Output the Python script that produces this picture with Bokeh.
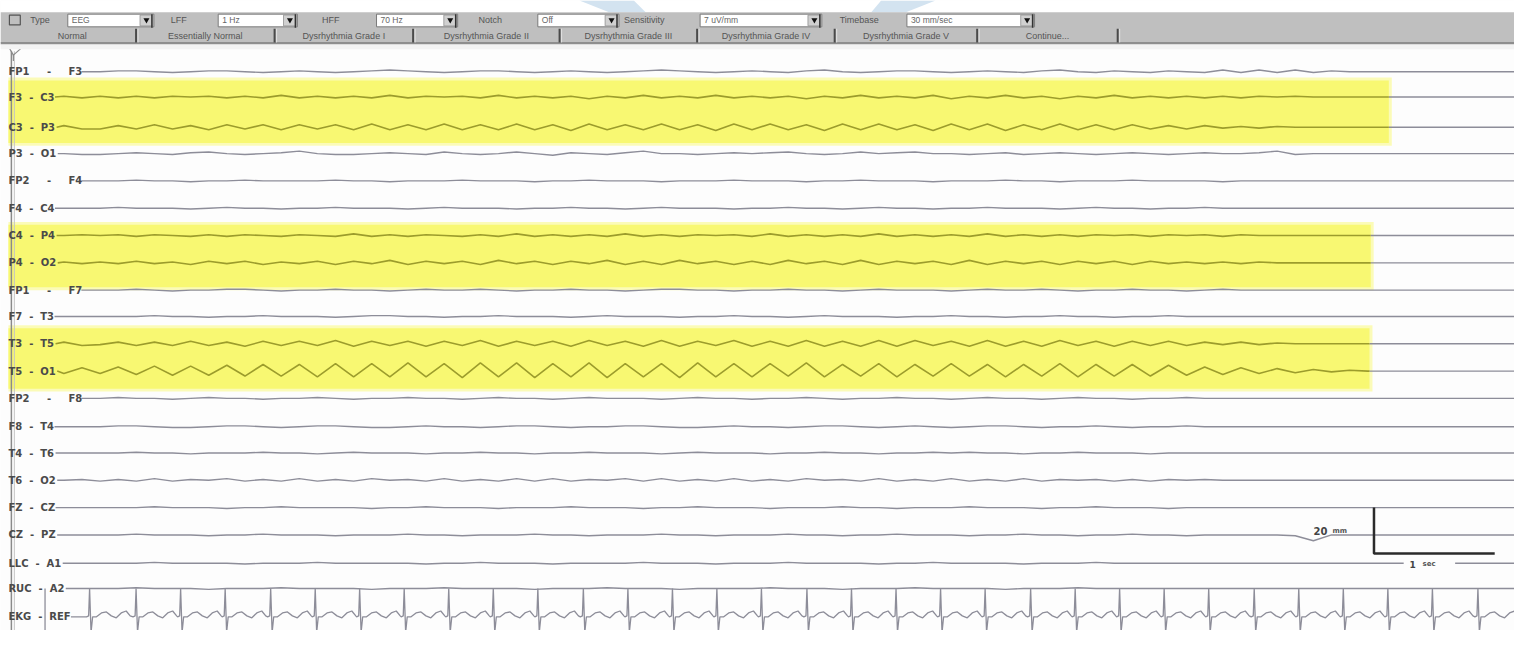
import numpy as np
from bokeh.plotting import figure
from bokeh.models import Range1d
from bokeh.embed import file_html
from bokeh.resources import INLINE
from bokeh.core.properties import value

# ---------------------------------------------------------------- data
channels = ["FP1 - F3", "F3 - C3", "C3 - P3", "P3 - O1", "FP2 - F4", "F4 - C4",
            "C4 - P4", "P4 - O2", "FP1 - F7", "F7 - T3", "T3 - T5", "T5 - O1",
            "FP2 - F8", "F8 - T4", "T4 - T6", "T6 - O2", "FZ - CZ", "CZ - PZ",
            "LLC - A1", "RUC - A2", "EKG - REF"]

# EEG samples (deflection, up = positive), one sample every dt seconds from t0
t0 = 0.375
dt = 0.15
eeg = {
    "FP1 - F3": [0, 0, 0,
                 0, 1, 1, 0, -1, 0, 1, 1, 0, -1,
                 0, 1, 0, -1, 0, 1, 2, 1, 0, -1,
                 0, 1, 1, 0, -1, 0, 1, 0, -1, 0,
                 1, 2, 1, 0, -1, 0, 1, 0, -1, 1,
                 2, 0, -1, 0, 1, 1, 0, -1, 0, 1,
                 0, -1, 1, 2, 0, -1, 1, 0, -1, 1,
                 0, -1, 2, -1, 2, -1, 2, -1, 1, 0,
                 0, 0, 0, 0, 0, 0, 0, 0, 0, 0],
    "F3 - C3": [0, 1, -1,
                1, -1, 1, -1, 1, 0, 1, -1, 1, -1,
                2, -1, 1, -1, 1, -1, 2, -1, 1, 0,
                1, -1, 2, -1, 1, -1, 1, -2, 1, -1,
                2, -1, 1, -1, 2, -1, 1, -1, 1, -2,
                1, -1, 2, -1, 1, -1, 2, -2, 1, -1,
                2, -1, 1, -2, 1, -1, 2, -1, 1, -1,
                1, -1, 1, -1, 1, 0, 1, 0, 0, 0,
                0, 0, 0, 0, 0, 0, 0, 0, 0, 0],
    "C3 - P3": [0, 2, -2,
                -2, 2, -2, 3, -2, 2, -3, 3, -2, 3,
                -3, 3, -2, 3, -3, 4, -3, 3, -3, 4,
                -3, 3, -3, 4, -3, 3, -4, 4, -3, 3,
                -3, 4, -3, 3, -4, 4, -3, 4, -3, 3,
                -4, 4, -3, 4, -3, 3, -4, 4, -3, 4,
                -4, 3, -3, 4, -3, 3, -3, 3, -2, 2,
                -2, 2, -1, 1, -1, 1, 0, 0, 0, 0,
                0, 0, 0, 0, 0, 0, 0, 0, 0, 0],
    "P3 - O1": [0, 0, -1,
                -1, 0, 1, 0, -1, 1, 2, 0, -1, 0,
                1, 3, 0, -1, -1, 0, 1, 0, -1, 2,
                0, -1, 0, 2, 0, -2, 1, 0, -1, 1,
                3, 0, 0, -1, 0, 1, 0, 1, 2, 0,
                -1, 0, 2, 0, 1, 2, 0, 0, -1, 0,
                1, -1, 0, 1, 0, -1, 0, 1, 0, -1,
                0, 1, 0, 0, 1, 3, -1, 0, 0, 0,
                0, 0, 0, 0, 0, 0, 0, 0, 0, 0],
    "FP2 - F4": [0, 0, 0,
                 0, 0, 1, 0, 0, -1, 0, 0, 1, 0,
                 0, 0, 0, 1, 0, 0, -1, 0, 0, 0,
                 1, 0, 0, 0, -1, 0, 0, 1, 0, 0,
                 0, -1, 0, 0, 0, 1, 0, 0, 0, -1,
                 0, 0, 1, 0, 0, 0, -1, 0, 0, 0,
                 1, 0, 0, -1, 0, 0, 0, 1, 0, 0,
                 0, 0, -1, 0, 0, 0, 0, 0, 0, 0,
                 0, 0, 0, 0, 0, 0, 0, 0, 0, 0],
    "F4 - C4": [0, 0, 0,
                0, 1, 0, 0, 0, -1, 0, 1, 0, 0,
                -1, 0, 0, 1, 0, 0, 0, -1, 0, 1,
                0, 0, 0, -1, 0, 0, 1, 0, 0, -1,
                0, 1, 0, 0, 0, -1, 0, 0, 1, 0,
                0, -1, 0, 1, 0, 0, -1, 0, 0, 1,
                0, 0, 0, -1, 0, 1, 0, 0, -1, 0,
                0, 1, 0, 0, 0, 0, 0, 0, 0, 0,
                0, 0, 0, 0, 0, 0, 0, 0, 0, 0],
    "C4 - P4": [0, 0, 1,
                0, 1, -1, 1, 0, -1, 1, -1, 1, 0,
                -1, 1, 0, -1, 2, -1, 1, -1, 1, 0,
                -1, 1, -1, 2, -1, 1, -1, 1, -1, 2,
                -1, 1, -1, 1, 0, 1, -1, 2, -1, 1,
                -1, 1, -1, 2, -1, 1, -1, 1, -1, 2,
                -1, 1, -1, 1, -1, 1, 0, 1, -1, 1,
                0, 1, -1, 1, 0, 0, 0, 0, 0, 0,
                0, 0, 0, 0, 0, 0, 0, 0, 0, 0],
    "P4 - O2": [0, 1, -1,
                1, -1, 2, -1, 1, -2, 2, -1, 2, -2,
                1, -1, 2, -2, 2, -1, 3, -2, 2, -1,
                2, -2, 3, -1, 2, -2, 2, -1, 3, -2,
                2, -2, 3, -1, 2, -2, 2, -2, 3, -1,
                2, -2, 3, -2, 2, -1, 2, -2, 3, -2,
                2, -1, 2, -2, 2, -1, 2, -2, 2, -1,
                1, -1, 1, -1, 1, 0, 0, 0, 0, 0,
                0, 0, 0, 0, 0, 0, 0, 0, 0, 0],
    "FP1 - F7": [0, 0, 0,
                 0, 0, 1, 0, -1, 0, 0, 1, 1, 0,
                 -1, 0, 0, 1, 0, 0, -1, 0, 1, 0,
                 0, 1, 0, -1, 0, 0, 1, 0, 0, -1,
                 0, 1, 1, 0, 0, -1, 0, 0, 1, 0,
                 0, -1, 0, 1, 0, 0, 0, -1, 0, 1,
                 0, 0, 1, 0, -1, 0, 0, 1, 0, 0,
                 -1, 0, 1, 0, 0, 0, 0, 0, 0, 0,
                 0, 0, 0, 0, 0, 0, 0, 0, 0, 0],
    "F7 - T3": [0, 0, 0,
                0, 0, 0, 1, 0, 0, -1, 0, 0, 1,
                0, 0, 0, -1, 0, 1, 1, 0, 0, -1,
                0, 0, 1, 0, 0, 0, -1, 0, 1, 0,
                0, 0, -1, 0, 0, 1, 0, 0, -1, 0,
                1, 0, 0, 0, -1, 0, 0, 1, 0, 0,
                -1, 0, 0, 1, 0, 0, -1, 0, 0, 1,
                0, 0, 0, 0, 0, 0, 0, 0, 0, 0,
                0, 0, 0, 0, 0, 0, 0, 0, 0, 0],
    "T3 - T5": [0, 2, -2,
                -1, 2, -2, 2, -2, 3, -2, 2, -3, 3,
                -2, 3, -2, 4, -3, 3, -2, 3, -3, 3,
                -2, 4, -3, 3, -2, 3, -3, 4, -2, 3,
                -3, 4, -3, 3, -2, 4, -3, 3, -3, 4,
                -3, 3, -3, 4, -3, 4, -2, 3, -3, 4,
                -3, 3, -3, 4, -2, 3, -3, 3, -2, 3,
                -2, 2, -1, 2, -1, 1, 0, 0, 0, 0,
                0, 0, 0, 0, 0, 0, 0, 0, 0, 0],
    "T5 - O1": [2, -3, 4,
                -3, 5, -4, 6, -5, 6, -5, 7, -6, 8,
                -6, 8, -7, 9, -7, 9, -7, 10, -7, 9,
                -8, 10, -7, 10, -8, 9, -7, 10, -8, 9,
                -7, 9, -8, 10, -7, 9, -7, 9, -6, 10,
                -7, 8, -6, 9, -7, 8, -6, 9, -6, 8,
                -7, 8, -6, 9, -7, 8, -6, 8, -6, 7,
                -5, 5, -4, 4, -3, 3, -2, 2, -1, 1,
                0, 0, 0, 0, 0, 0, 0, 0, 0, 0],
    "FP2 - F8": [0, 0, 0,
                 0, 1, 0, 0, -1, 0, 1, 0, 0, -1,
                 0, 0, 1, 0, -1, 0, 0, 1, 0, 0,
                 -1, 0, 1, 0, 0, -1, 0, 1, 0, 0,
                 0, -1, 0, 1, 0, 0, -1, 0, 0, 1,
                 0, -1, 0, 0, 1, 0, 0, -1, 0, 1,
                 0, 0, -1, 0, 1, 0, 0, -1, 0, 0,
                 1, 0, 0, 0, 0, 0, 0, 0, 0, 0,
                 0, 0, 0, 0, 0, 0, 0, 0, 0, 0],
    "F8 - T4": [0, 0, 0,
                0, 1, 1, 0, -1, -1, 0, 1, 1, 0,
                -1, 0, 1, 1, 0, -1, -1, 0, 1, 0,
                0, -1, 0, 1, 1, 0, -1, 0, 0, 1,
                1, 0, -1, -1, 0, 1, 0, 0, -1, 0,
                1, 1, 0, -1, 0, 1, 0, -1, 0, 1,
                1, 0, -1, 0, 0, 1, 0, -1, 0, 0,
                1, 0, 0, 0, 0, 0, 0, 0, 0, 0,
                0, 0, 0, 0, 0, 0, 0, 0, 0, 0],
    "T4 - T6": [0, 0, 0,
                0, 0, 1, 0, 0, -1, 0, 0, 0, 1,
                0, 0, -1, 0, 1, 0, 0, 0, -1, 0,
                0, 1, 0, 0, -1, 0, 0, 1, 0, 0,
                0, -1, 0, 1, 0, 0, 0, -1, 0, 0,
                1, 0, 0, -1, 0, 0, 1, 0, 1, 0,
                0, -1, 0, 0, 1, 0, 0, 0, -1, 0,
                0, 0, 0, 0, 0, 0, 0, 0, 0, 0,
                0, 0, 0, 0, 0, 0, 0, 0, 0, 0],
    "T6 - O2": [0, 0, 1,
                -1, 1, -1, 2, -1, 1, 0, 2, -1, 1,
                -1, 2, -1, 1, -1, 2, 0, 1, -1, 2,
                -1, 1, -1, 2, -1, 2, -1, 1, 0, 2,
                -1, 2, -1, 1, -1, 2, -1, 1, -1, 2,
                0, 1, -1, 2, -1, 1, -1, 2, -1, 1,
                -1, 2, -1, 1, 0, 1, -1, 1, -1, 1,
                0, 1, 0, 0, 0, 0, 0, 0, 0, 0,
                0, 0, 0, 0, 0, 0, 0, 0, 0, 0],
    "FZ - CZ": [0, 0, 0,
                0, 0, 0, 1, 0, 0, 0, -1, 0, 0,
                1, 0, 0, 0, 0, -1, 0, 0, 1, 0,
                0, 0, -1, 0, 0, 0, 1, 0, 0, 0,
                -1, 0, 0, 1, 0, 0, 0, -1, 0, 0,
                0, 1, 0, 0, -1, 0, 0, 0, 1, 0,
                0, 0, -1, 0, 0, 1, 0, 0, 0, -1,
                0, 0, 0, 0, 0, 0, 0, 0, 0, 0,
                0, 0, 0, 0, 0, 0, 0, 0, 0, 0],
    "CZ - PZ": [0, 0, 0,
                0, 0, 1, 0, 0, 0, -1, 0, 0, 1,
                0, 0, 0, -1, 0, 0, 0, 1, 0, 0,
                -1, 0, 0, 0, 1, 0, 0, -1, 0, 0,
                0, 1, 0, 0, -1, 0, 0, 0, 1, 0,
                0, -1, 0, 0, 1, 0, 0, 0, -1, 0,
                0, 1, 0, 0, -1, 0, 0, 1, 0, 0,
                -1, 0, 0, 0, 0, 0, -1, -7, 0, 0,
                0, 0, 0, 0, 0, 0, 0, 0, 0, 0],
    "LLC - A1": [0, 0, 0,
                 0, 0, 0, 1, 0, 0, 0, 0, -1, 0,
                 0, 0, 1, 0, 0, 0, 0, 0, -1, 0,
                 0, 1, 0, 0, 0, -1, 0, 0, 0, 0,
                 1, 0, 0, 0, -1, 0, 0, 0, 1, 0,
                 0, 0, 0, -1, 0, 0, 1, 0, 0, 0,
                 0, -1, 0, 0, 0, 1, 0, 0, 0, 0,
                 0, 0, 0, 0, 0, 0, 0, 0, 0, 0,
                 0, 0, 0, 0, 0, 0, 0, 0, 0, 0],
    "RUC - A2": [0, 0, 0,
                 0, 0, 1, 0, 0, 0, -1, 0, 0, 0,
                 1, 0, 0, 0, 0, -1, 0, 0, 0, 1,
                 0, 0, 0, 0, -1, 0, 0, 0, 1, 0,
                 0, 0, -1, 0, 0, 0, 0, 1, 0, 0,
                 0, -1, 0, 0, 0, 1, 0, 0, 0, 0,
                 -1, 0, 0, 0, 1, 0, 0, 0, 0, 0,
                 0, 0, 0, 0, 0, 0, 0, 0, 0, 0,
                 0, 0, 0, 0, 0, 0, 0, 0, 0, 0],
}

# EKG: R-peak times (s) and one beat's shape (ms from R, deflection)
ekg_r_times = [0.369, 0.738, 1.123, 1.492, 1.861, 2.238, 2.607, 2.975, 3.344,
               3.713, 4.082, 4.451, 4.828, 5.197, 5.566, 5.934, 6.303, 6.680,
               7.049, 7.418, 7.787, 8.156, 8.533, 8.902, 9.270, 9.639, 10.008,
               10.385, 10.754, 11.123, 11.492, 11.861, 12.238, 12.607]
beat_ms = [-25, -8, 0, 12, 25, 57, 98, 139, 180, 221, 262, 303, 336]
beat_val = [0, 1, 29, -16, 0, 0, 4, 5, 1, -1, 4, 6, 1]

# highlighted (yellow) channel groups and where each box ends (s)
highlight_groups = [["F3 - C3", "C3 - P3"], ["C4 - P4", "P4 - O2"], ["T3 - T5", "T5 - O1"]]
highlight_end_s = [11.50, 11.35, 11.34]

# toolbar texts
row1_labels = ["Type", "LFF", "HFF", "Notch", "Sensitivity", "Timebase"]
row1_values = ["EEG", "1 Hz", "70 Hz", "Off", "7 uV/mm", "30 mm/sec"]
buttons = ["Normal", "Essentially Normal", "Dysrhythmia Grade I",
           "Dysrhythmia Grade II", "Dysrhythmia Grade III", "Dysrhythmia Grade IV",
           "Dysrhythmia Grade V", "Continue..."]
scale_v_text = ("20", "mm")
scale_h_text = ("1", "sec")

# ---------------------------------------------------------------- layout / style
PX_PER_S = 122.0
GAIN = 0.85
W, H = 1514, 630
baselines = [73, 99, 130, 157, 185, 213, 241, 269, 297, 324, 352, 380, 408,
             437, 464, 492, 520, 548, 577, 603, 632]
band_top = [82, 230, 336]
band_bot = [146, 294, 398]
GRAY_TRACE = "#8d8d99"
OLIVE_TRACE = "#9c9c2c"
YELLOW = "#f8f872"
LABEL_FONT = value("DejaVu Sans")
UI_FONT = value("Liberation Sans")

# the whole 1530 x 646 screen is mapped onto the canvas
p = figure(width=W, height=H, x_range=Range1d(0, 1530), y_range=Range1d(646, 0),
           output_backend="svg", toolbar_location=None, min_border=0)
p.axis.visible = False
p.grid.visible = False
p.outline_line_color = None
p.background_fill_color = "#fdfdfd"
p.border_fill_color = "white"

# white strip above the toolbar with faint watermark pieces
p.quad(left=0, right=1530, top=0, bottom=12, fill_color="white", line_color=None)
p.patch([585, 640, 652, 615], [0, 0, 12, 12], fill_color="#d3e3f0", line_color=None)
p.patch([890, 945, 915, 880], [0, 0, 12, 12], fill_color="#d3e3f0", line_color=None)

# yellow highlight boxes (soft edge + core)
for k in range(3):
    right = highlight_end_s[k] * PX_PER_S
    p.quad(left=8, right=right + 3, top=band_top[k] - 3, bottom=band_bot[k] + 3,
           fill_color="#fbfbb8", line_color=None)
    p.quad(left=8, right=right, top=band_top[k], bottom=band_bot[k],
           fill_color=YELLOW, line_color=None)

# left border lines and cursor icon
p.line([11, 11], [52, 646], line_color="#8a8a8a", line_width=1.5)
p.line([14, 14], [52, 646], line_color="#c4c4c4", line_width=1)
p.multi_line([[8, 13, 23], [13, 13]], [[47, 56, 47], [56, 62]], line_color="#8a8a8a", line_width=1.2)

# label widths (DejaVu Sans Bold advance widths, em)
CW = {'A': .774, 'C': .734, 'E': .683, 'F': .575, 'G': .821, 'K': .776, 'L': .637,
      'O': .850, 'P': .736, 'R': .770, 'T': .682, 'U': .812, 'Z': .725, '-': .415,
      '\u00a0': .348}
LABEL_SIZE = 10
LABEL_X = 8


def disp(label):
    a, b = label.split(" - ")
    g = "\u00a0" * (5 if a.startswith("FP") else 2)
    return a + g + "-" + g + b


def width(s):
    return sum(CW.get(c, .696) for c in s) * LABEL_SIZE


band_of = {}
for k, grp in enumerate(highlight_groups):
    for c in grp:
        band_of[c] = k

gray_xs, gray_ys, olive_xs, olive_ys = [], [], [], []
for ci, ch in enumerate(channels[:-1]):
    vals = np.array(eeg[ch], dtype=float)
    t = t0 + dt * np.arange(len(vals))
    x = t * PX_PER_S
    base = baselines[ci]
    start = LABEL_X + width(disp(ch)) + 2
    keep = x > start
    xs = np.concatenate([[start], x[keep]])
    vs = np.concatenate([[0.0], vals[keep]])
    if xs[-1] < 1530:
        xs = np.append(xs, 1530)
        vs = np.append(vs, vs[-1])
    ys = base - GAIN * vs
    if ch in band_of:
        xe = highlight_end_s[band_of[ch]] * PX_PER_S
        ye = np.interp(xe, xs, ys)
        m = xs < xe
        olive_xs.append(list(xs[m]) + [xe]); olive_ys.append(list(ys[m]) + [ye])
        gray_xs.append([xe] + list(xs[~m])); gray_ys.append([ye] + list(ys[~m]))
    else:
        gray_xs.append(list(xs)); gray_ys.append(list(ys))

p.multi_line(gray_xs, gray_ys, line_color=GRAY_TRACE, line_width=1.4)
p.multi_line(olive_xs, olive_ys, line_color=OLIVE_TRACE, line_width=1.6)

# EKG trace
ekg_base = baselines[-1]
ekg_start = LABEL_X + width(disp(channels[-1])) + 2
ex, ey = [ekg_start], [ekg_base]
spike_xs, spike_ys = [], []
for r in ekg_r_times:
    rx = r * PX_PER_S
    bx = [rx + m / 1000.0 * PX_PER_S for m in beat_ms]
    if bx[0] < ekg_start:
        spike_xs.append([rx, rx, rx]); spike_ys.append([ekg_base, ekg_base - 29, ekg_base + 16])
        continue
    ex += bx
    ey += [ekg_base - v for v in beat_val]
p.line(ex, ey, line_color=GRAY_TRACE, line_width=1.3)
p.multi_line(spike_xs, spike_ys, line_color=GRAY_TRACE, line_width=1.3)

# channel labels
p.text(x=[LABEL_X] * len(channels), y=baselines, text=[disp(c) for c in channels],
       text_font=LABEL_FONT, text_font_style="bold", text_font_size=f"{LABEL_SIZE}px",
       text_color="#4a4a4a", text_baseline="middle", text_align="left")

# scale bar
p.line([1388, 1388, 1510], [520, 567, 567], line_color="#2b2b2b", line_width=2.5)
p.text(x=[1327], y=[544], text=[scale_v_text[0]], text_font=LABEL_FONT, text_font_style="bold",
       text_font_size="10px", text_color="#444444", text_baseline="middle")
p.text(x=[1346], y=[544], text=[scale_v_text[1]], text_font=LABEL_FONT, text_font_style="bold",
       text_font_size="7px", text_color="#555555", text_baseline="middle")
p.quad(left=1418, right=1470, top=572, bottom=583, fill_color="#fdfdfd", line_color=None)
p.text(x=[1424], y=[578], text=[scale_h_text[0]], text_font=LABEL_FONT, text_font_style="bold",
       text_font_size="9px", text_color="#444444", text_baseline="middle")
p.text(x=[1437], y=[578], text=[scale_h_text[1]], text_font=LABEL_FONT, text_font_style="bold",
       text_font_size="7px", text_color="#555555", text_baseline="middle")

# ---------------------------------------------------------------- top toolbar
p.quad(left=0, right=1530, top=12, bottom=44, fill_color="#bfbfbf", line_color=None)
p.quad(left=0, right=1530, top=42.5, bottom=45, fill_color="#8e8e8e", line_color=None)
p.quad(left=0, right=1530, top=45, bottom=50, fill_color="#f3f3f3", line_color=None)
# small icon
p.quad(left=9, right=20, top=15, bottom=25, fill_color=None, line_color="#555555", line_width=1.2)

row1_label_x = [30, 172, 325, 483, 630, 848]
combo_l = [68, 220, 380, 543, 707, 916]
combo_r = [155, 300, 462, 625, 830, 1045]
p.quad(left=combo_l, right=combo_r, top=[14] * 6, bottom=[27] * 6,
       fill_color="white", line_color="#7a7a7a", line_width=1)
btn_l = [r - 14 for r in combo_r]
p.quad(left=btn_l, right=[r - 1 for r in combo_r], top=[15] * 6, bottom=[26] * 6,
       fill_color="#d0d0d0", line_color="#909090", line_width=0.8)
p.scatter(x=[b + 6.5 for b in btn_l], y=[20] * 6, marker="inverted_triangle", size=6,
          fill_color="#111111", line_color=None)
p.multi_line([[r - 2, r - 2] for r in combo_r], [[14, 28]] * 6, line_color="#333333", line_width=1.5)
p.text(x=row1_label_x, y=[20.5] * 6, text=row1_labels, text_font=UI_FONT, text_font_size="9px",
       text_color="#555555", text_baseline="middle")
p.text(x=[l + 4 for l in combo_l], y=[20.5] * 6, text=row1_values, text_font=UI_FONT,
       text_font_size="8.5px", text_color="#666666", text_baseline="middle")

seps = [137, 277, 417, 565, 704, 843, 987, 1129]
lefts = [8] + seps[:-1]
p.multi_line([[s, s] for s in seps], [[29, 43]] * len(seps), line_color="#4a4a4a", line_width=2)
p.multi_line([[s + 2, s + 2] for s in seps], [[29, 43]] * len(seps), line_color="#e2e2e2", line_width=1)
p.text(x=[(a + b) / 2 for a, b in zip(lefts, seps)], y=[36] * len(seps), text=buttons,
       text_font=UI_FONT, text_font_size="9px", text_color="#555555",
       text_baseline="middle", text_align="center")

open("out.html", "w").write(file_html(p, INLINE))
